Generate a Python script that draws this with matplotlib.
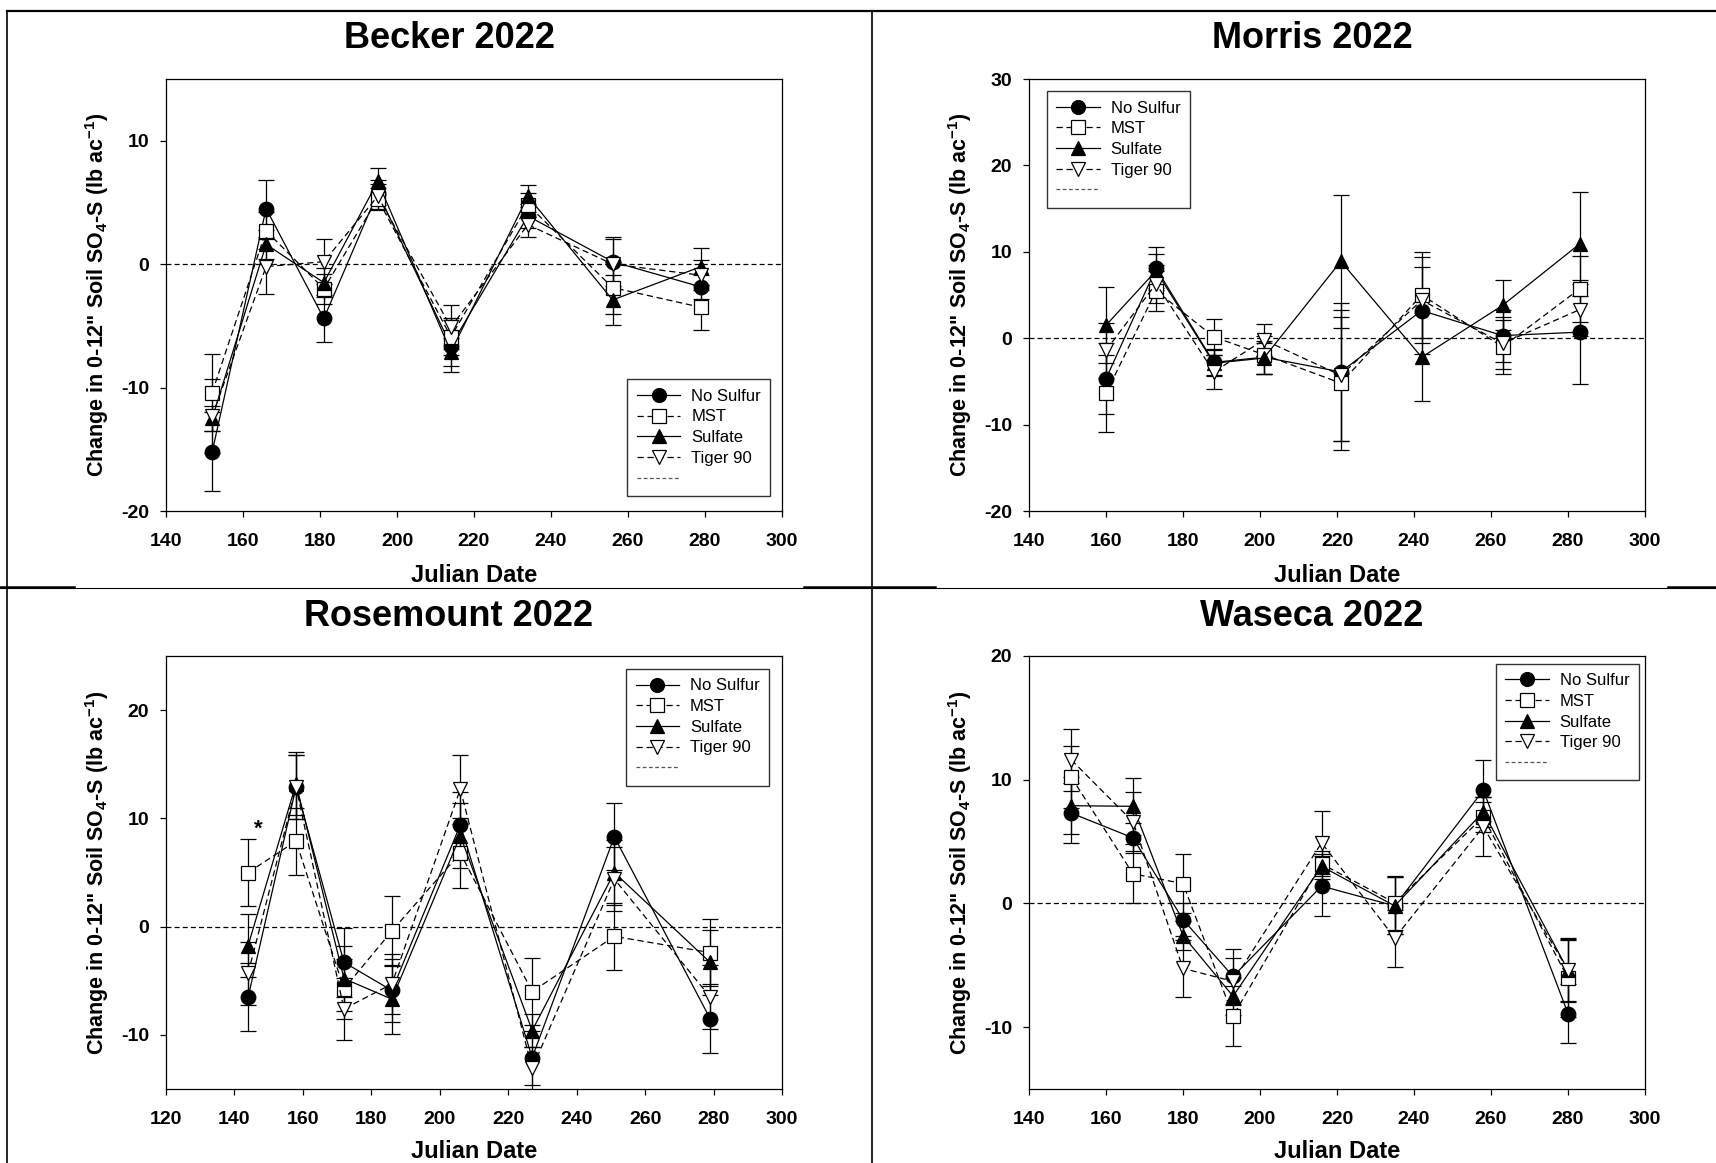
import numpy as np
import matplotlib
matplotlib.use("Agg")
import matplotlib.pyplot as plt
from matplotlib.lines import Line2D

plt.rcParams['font.family'] = ['Liberation Sans', 'DejaVu Sans']
plt.rcParams['mathtext.fontset'] = 'custom'
plt.rcParams['mathtext.rm'] = 'Liberation Sans'
plt.rcParams['mathtext.bf'] = 'Liberation Sans:bold'
plt.rcParams['mathtext.default'] = 'bf'
plt.rcParams['axes.unicode_minus'] = False

treatments = ["No Sulfur", "MST", "Sulfate", "Tiger 90"]

# Becker 2022
becker_x = [152, 166, 181, 195, 214, 234, 256, 279]
becker_ns = [-15.2, 4.5, -4.4, 5.8, -6.6, 3.9, 0.2, -1.85]
becker_mst = [-10.4, 2.7, -2.0, 5.3, -5.9, 4.8, -1.9, -3.5]
becker_sulf = [-12.5, 1.6, -1.5, 6.7, -7.1, 5.5, -2.9, -0.2]
becker_tiger = [-12.3, -0.2, 0.2, 5.5, -5.1, 3.2, 0.0, -0.9]
becker_ns_err = [3.2, 2.3, 1.9, 1.0, 2.1, 1.0, 2.0, 1.0]
becker_mst_err = [3.1, 1.5, 1.2, 0.9, 1.5, 1.0, 2.1, 1.85]
becker_sulf_err = [1.0, 1.2, 1.2, 1.1, 1.15, 0.9, 2.0, 1.5]
becker_tiger_err = [3.0, 2.25, 1.8, 1.0, 1.8, 1.0, 2.0, 1.2]

# Morris 2022
morris_x = [160, 173, 188, 201, 221, 242, 263, 283]
morris_ns = [-4.7, 8.1, -2.8, -2.2, -3.9, 3.2, 0.3, 0.7]
morris_mst = [-6.4, 5.5, 0.15, -1.9, -5.2, 5.0, -1.0, 5.7]
morris_sulf = [1.5, 7.8, -2.9, -2.3, 8.9, -2.2, 3.8, 10.9]
morris_tiger = [-1.4, 6.3, -3.9, -0.2, -4.3, 4.4, -0.6, 3.3]
morris_ns_err = [4.1, 2.5, 1.5, 1.9, 8.0, 5.0, 3.0, 6.0]
morris_mst_err = [4.4, 2.3, 2.1, 2.2, 7.7, 5.0, 3.1, 3.8]
morris_sulf_err = [4.4, 2.0, 1.5, 1.8, 7.7, 5.1, 2.9, 6.0]
morris_tiger_err = [3.2, 2.2, 2.0, 1.9, 7.6, 5.0, 3.0, 3.0]

# Rosemount 2022
rose_x = [144, 158, 172, 186, 206, 227, 251, 279]
rose_ns = [-6.5, 12.9, -3.3, -5.9, 9.4, -12.1, 8.3, -8.5]
rose_mst = [5.0, 7.9, -5.75, -0.4, 6.8, -6.0, -0.9, -2.4]
rose_sulf = [-1.75, 13.2, -4.8, -6.7, 8.4, -9.6, 5.0, -3.3]
rose_tiger = [-4.3, 12.9, -7.6, -5.3, 12.7, -13.1, 4.4, -6.5]
rose_ns_err = [3.1, 3.0, 3.2, 2.9, 3.0, 2.5, 3.1, 3.2]
rose_mst_err = [3.1, 3.1, 2.8, 3.2, 3.2, 3.1, 3.1, 3.1]
rose_sulf_err = [2.9, 2.9, 3.0, 3.2, 3.0, 1.5, 3.0, 3.0]
rose_tiger_err = [2.9, 3.0, 2.9, 2.8, 3.2, 2.0, 3.0, 3.0]

# Waseca 2022
waseca_x = [151, 167, 180, 193, 216, 235, 258, 280]
waseca_ns = [7.3, 5.3, -1.3, -5.9, 1.4, -0.2, 9.15, -8.9]
waseca_mst = [10.2, 2.4, 1.6, -9.1, 3.2, 0.05, 7.0, -6.05]
waseca_sulf = [7.9, 7.85, -2.6, -7.5, 3.0, -0.2, 7.4, -5.4]
waseca_tiger = [11.6, 6.6, -5.25, -6.3, 4.9, -2.8, 6.2, -5.4]
waseca_ns_err = [2.45, 1.2, 1.3, 2.2, 2.4, 2.3, 2.45, 2.4]
waseca_mst_err = [2.5, 2.4, 2.4, 2.4, 1.0, 2.2, 1.2, 3.1]
waseca_sulf_err = [2.3, 2.3, 1.2, 1.5, 1.0, 2.3, 1.2, 2.6]
waseca_tiger_err = [2.5, 2.4, 2.3, 1.9, 2.55, 2.3, 2.4, 2.5]

W, H = 1716, 1163
fig = plt.figure(figsize=(W / 100, H / 100), dpi=100)

styles = [
    dict(marker='o', mfc='black', ls='-'),
    dict(marker='s', mfc='white', ls=(0, (5, 3))),
    dict(marker='^', mfc='black', ls='-'),
    dict(marker='v', mfc='white', ls=(0, (5, 3))),
]


def px_axes(left, top, right, bottom):
    return fig.add_axes([left / W, 1 - bottom / H, (right - left) / W, (bottom - top) / H])


def draw_panel(ax, x, series, errs, xlim, ylim, yticks, leg_xy, xlab_y=-0.122):
    ax.axhline(0, color='black', lw=0.9, ls=(0, (4, 2.5)), zorder=1)
    for y, e in zip(series, errs):
        ax.errorbar(x, y, yerr=e, fmt='none', ecolor='black', elinewidth=0.9,
                    capsize=6, capthick=0.9, zorder=2)
    for y, st in zip(series, styles):
        ax.plot(x, y, color='black', lw=0.9, marker=st['marker'], ms=10.5,
                mfc=st['mfc'], mec='black', mew=0.9, ls=st['ls'], zorder=3)
    ax.set_xlim(*xlim)
    ax.set_ylim(*ylim)
    ax.set_xticks(np.arange(xlim[0], xlim[1] + 1, 20))
    ax.set_yticks(yticks)
    ax.tick_params(direction='out', length=4, width=0.9, labelsize=14)
    ax.tick_params(axis='y', pad=8)
    ax.tick_params(axis='x', pad=12)
    for lab in ax.get_xticklabels() + ax.get_yticklabels():
        lab.set_fontweight('bold')
    for sp in ax.spines.values():
        sp.set_linewidth(0.9)
    ax.set_xlabel("Julian Date", fontsize=17, fontweight='bold')
    ax.set_ylabel("Change in 0-12\" Soil SO$_4$-S (lb ac$^{-1}$)", fontsize=15.5, fontweight='bold')
    ax.xaxis.set_label_coords(0.5, xlab_y)
    ax.yaxis.set_label_coords(-0.089, 0.5)

    handles = []
    for st in styles:
        handles.append(Line2D([], [], color='black', lw=0.9, marker=st['marker'], ms=10,
                              mfc=st['mfc'], mec='black', mew=0.9, ls=st['ls']))
    handles.append(Line2D([], [], color='#555555', lw=0.9, ls=(0, (3, 2))))
    leg = ax.legend(handles, treatments + [''], loc='upper left', bbox_to_anchor=leg_xy,
                    borderaxespad=0, frameon=True, fancybox=False, fontsize=12,
                    handlelength=2.6, labelspacing=0.34, handletextpad=0.66,
                    borderpad=0.57, edgecolor='black')
    leg.get_frame().set_linewidth(1.0)


ax1 = px_axes(166, 79, 782, 511)
draw_panel(ax1, becker_x, [becker_ns, becker_mst, becker_sulf, becker_tiger],
           [becker_ns_err, becker_mst_err, becker_sulf_err, becker_tiger_err],
           (140, 300), (-20, 15), [-20, -10, 0, 10], (0.749, 0.305))

ax2 = px_axes(1029, 79, 1645, 511)
draw_panel(ax2, morris_x, [morris_ns, morris_mst, morris_sulf, morris_tiger],
           [morris_ns_err, morris_mst_err, morris_sulf_err, morris_tiger_err],
           (140, 300), (-20, 30), [-20, -10, 0, 10, 20, 30], (0.029, 0.972))

ax3 = px_axes(166, 656, 782, 1089)
draw_panel(ax3, rose_x, [rose_ns, rose_mst, rose_sulf, rose_tiger],
           [rose_ns_err, rose_mst_err, rose_sulf_err, rose_tiger_err],
           (120, 300), (-15, 25), [-10, 0, 10, 20], (0.747, 0.970), xlab_y=-0.118)
ax3.text(147, 9, "*", fontsize=16, fontweight='bold', ha='center', va='center')

ax4 = px_axes(1029, 656, 1645, 1089)
draw_panel(ax4, waseca_x, [waseca_ns, waseca_mst, waseca_sulf, waseca_tiger],
           [waseca_ns_err, waseca_mst_err, waseca_sulf_err, waseca_tiger_err],
           (140, 300), (-15, 20), [-10, 0, 10, 20], (0.758, 0.982), xlab_y=-0.118)

# panel titles
fig.text(449 / W, 1 - 38 / H, "Becker 2022", fontsize=26, fontweight='bold', ha='center', va='center')
fig.text(1312 / W, 1 - 38 / H, "Morris 2022", fontsize=26, fontweight='bold', ha='center', va='center')
fig.text(449 / W, 1 - 616 / H, "Rosemount 2022", fontsize=26, fontweight='bold', ha='center', va='center')
fig.text(1312 / W, 1 - 616 / H, "Waseca 2022", fontsize=26, fontweight='bold', ha='center', va='center')

# frame lines around the quadrants
def fig_line(xs, ys, lw):
    fig.add_artist(Line2D([x / W for x in xs], [1 - y / H for y in ys], color='black', lw=lw))

fig_line([7, W], [11, 11], 1.6)
fig_line([7, 7], [11, H], 1.2)
fig_line([872, 872], [11, H], 1.2)
fig_line([0, W], [588, 588], 0.8)
fig_line([0, 74], [587, 587], 1.8)
fig_line([804, 935], [587, 587], 1.8)
fig_line([1668, W], [587, 587], 1.8)

fig.savefig("out.png", dpi=100)
